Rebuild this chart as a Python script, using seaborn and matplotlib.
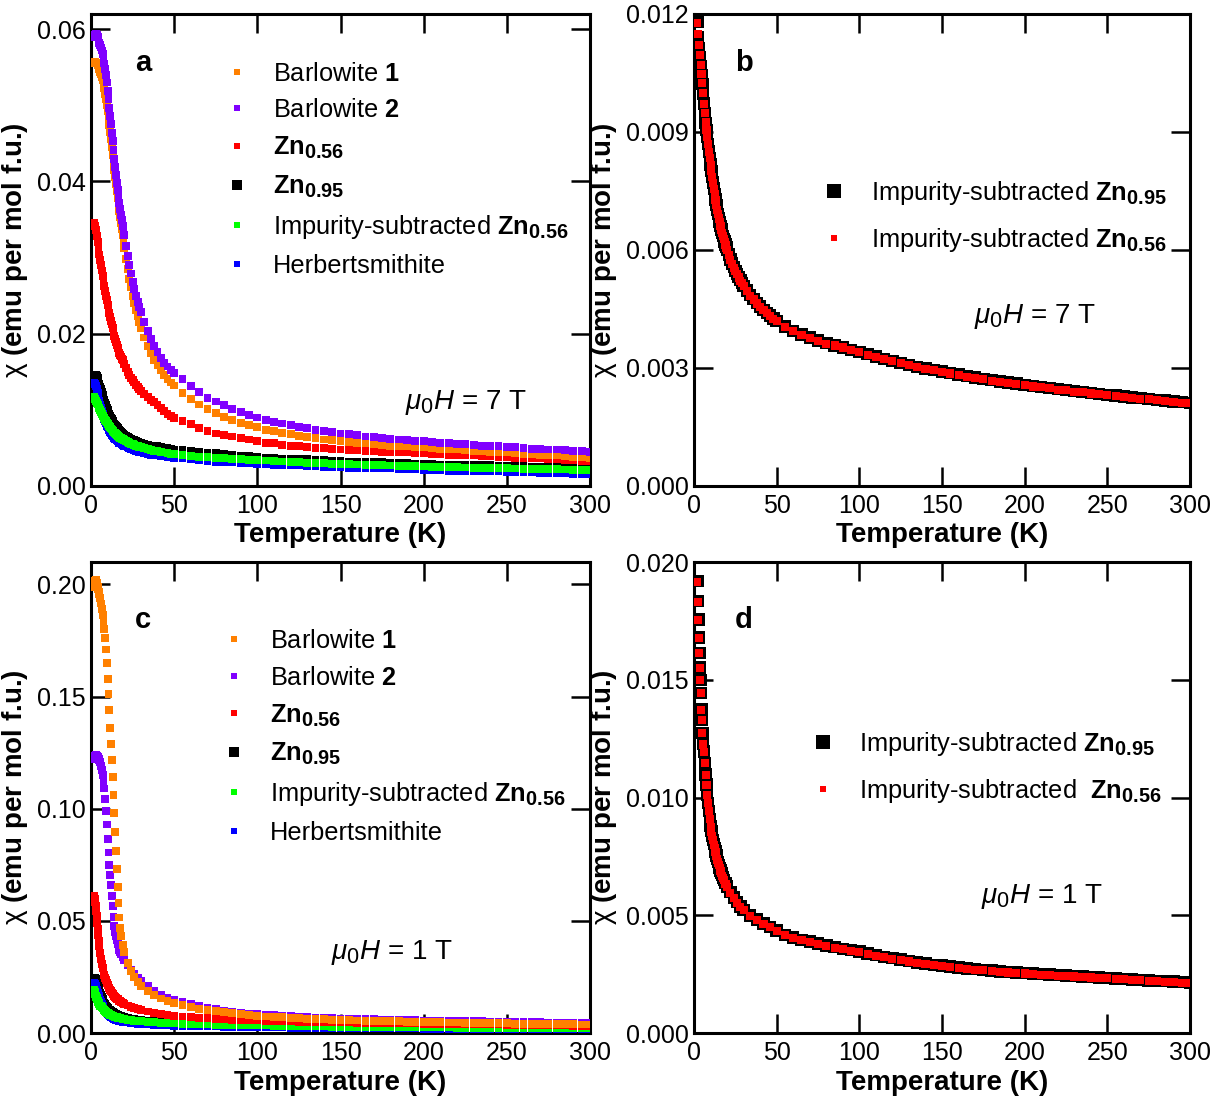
import matplotlib
matplotlib.use("Agg")
import matplotlib.pyplot as plt
import matplotlib._mathtext as _mt
import seaborn as sns
from matplotlib.lines import Line2D

# ---------------- data ----------------
# Temperature grid of the 7 T measurements (panels a, b)
T_7T = [2, 2.5, 3, 3.5, 4, 4.5, 5, 5.5, 6, 6.5, 7, 7.5, 8, 8.5, 9, 9.5, 10, 10.5, 11, 11.5,
        12, 12.5, 13, 13.5, 14, 14.5, 15, 15.5, 16, 16.5, 17, 17.5, 18, 18.5, 19, 19.5, 20,
        21, 22, 23, 24, 25, 26, 27, 28, 29, 30, 32, 34, 36, 38, 40, 42, 44, 46, 48, 50,
        55, 60, 65, 70, 75, 80, 85, 90, 95, 100, 105, 110, 115, 120, 125, 130, 135, 140, 145, 150,
        155, 160, 165, 170, 175, 180, 185, 190, 195, 200, 205, 210, 215, 220, 225, 230, 235, 240, 245, 250,
        255, 260, 265, 270, 275, 280, 285, 290, 295, 300]

# Temperature grid of the 1 T measurements (panels c, d)
T_1T = [2.0, 2.3, 2.6, 2.9, 3.2, 3.5, 3.8, 4.1, 4.4, 4.7, 5.0,
        5.5, 6.0, 6.5, 7.0, 7.5, 8.0, 8.5, 9.0, 9.5, 10.0, 10.5, 11.0, 11.5, 12.0, 12.5, 13.0, 13.5,
        14.0, 14.5, 15.0, 15.5, 16.0, 16.5, 17.0, 17.5, 18.0,
        19, 20, 22, 24, 26, 28, 30, 34, 38, 42, 46, 50,
        55, 60, 65, 70, 75, 80, 85, 90, 95, 100, 105, 110, 115, 120, 125, 130, 135, 140, 145, 150,
        155, 160, 165, 170, 175, 180, 185, 190, 195, 200, 205, 210, 215, 220, 225, 230, 235, 240, 245, 250,
        255, 260, 265, 270, 275, 280, 285, 290, 295, 300]

# ---- panel a (7 T) ----
barlowite1_7T = [.0556, .0557, .0556, .0555, .0553, .0550, .0547, .0544, .0541, .0537,
                 .0533, .0528, .0522, .0515, .0508, .0500, .0492, .0483, .0474, .0465,
                 .0455, .0445, .0435, .0425, .0415, .0406, .0396, .0387, .0378, .0370,
                 .0361, .0353, .0345, .0337, .0329, .0320, .0312,
                 .0298, .0285, .0272, .0261, .0250, .0240, .0231, .0223, .0215, .0208,
                 .0195, .0184, .0175, .0166, .0159, .0152, .0146, .0141, .0136, .0132,
                 .0122, .0114, .0107, .0101, .0096, .0091, .0087, .0083, .0080, .0077, .0074, .0072, .0070, .0068,
                 .0066, .0064, .0063, .0061, .0060, .0059, .0058, .0057, .0056, .0055, .0054, .0053, .0053, .0052,
                 .0051, .0051, .0050, .0049, .0048, .0048, .0047, .0046, .0046, .0045, .0044, .0044, .0043, .0042,
                 .0042, .0041, .0040, .0040, .0039, .0038, .0038, .0037]
barlowite2_7T = [.0590, .0593, .0594, .0593, .0590, .0586, .0582, .0579, .0576, .0572,
                 .0567, .0561, .0555, .0548, .0540, .0530, .0519, .0508, .0497, .0486,
                 .0475, .0464, .0453, .0441, .0430, .0419, .0408, .0398, .0389, .0380,
                 .0372, .0364, .0356, .0349, .0342, .0336, .0330,
                 .0315, .0302, .0290, .0279, .0268, .0259, .0250, .0242, .0235, .0228,
                 .0215, .0203, .0193, .0184, .0176, .0168, .0162, .0157, .0152, .0148,
                 .0140, .0131, .0123, .0116, .0111, .0106, .0101, .0097, .0093, .0090, .0087, .0084, .0082, .0080,
                 .0078, .0076, .0074, .0072, .0071, .0069, .0068, .0067, .0065, .0064, .0063, .0062, .0061, .0060,
                 .0059, .0059, .0058, .0057, .0056, .0055, .0055, .0054, .0053, .0053, .0052, .0051, .0051, .0050,
                 .0049, .0049, .0048, .0048, .0047, .0046, .0046, .0045]
zn056_7T = [.0346, .0342, .0336, .0328, .0320, .0311, .0304, .0297, .0290, .0283,
            .0276, .0269, .0263, .0256, .0250, .0244, .0238, .0232, .0227, .0222,
            .0217, .0212, .0207, .0202, .0197, .0193, .0189, .0185, .0181, .0178,
            .0175, .0172, .0170, .0167, .0165, .0162, .0160,
            .0155, .0150, .0146, .0142, .0139, .0136, .0133, .0130, .0127, .0125,
            .0121, .0117, .0113, .0110, .0106, .0102, .0098, .0095, .0092, .0089,
            .0085, .0081, .0076, .0072, .0069, .0067, .0065, .0063, .0061, .0059, .0057, .0056, .0054, .0053,
            .0052, .0051, .0050, .0050, .0049, .0048, .0047, .0047, .0046, .0046, .0045, .0045, .0044, .0044,
            .0043, .0043, .0042, .0042, .0041, .0041, .0040, .0040, .0039, .0039, .0038, .0038, .0037, .0037,
            .0036, .0036, .0035, .0035, .0034, .0034, .0033, .0033]
zn095_7T = [.0145, .0146, .0146, .0145, .0142, .0138, .0134, .0130, .0127, .0123,
            .0120, .0116, .0113, .0109, .0106, .0103, .0100, .0097, .0095, .0092,
            .0090, .0088, .0086, .0084, .0082, .0080, .0079, .0077, .0076, .0075,
            .0073, .0072, .0071, .0070, .0069, .0068, .0067,
            .0066, .0065, .0063, .0062, .0061, .0060, .0059, .0058, .0057, .0056,
            .0055, .0054, .0053, .0052, .0052, .0051, .0050, .0050, .0049, .0048,
            .0047, .0046, .0045, .0044, .0043, .0042, .0041, .0040, .0039, .0038, .0037, .0037, .0036, .0036,
            .0035, .0035, .0034, .0034, .0033, .0033, .0032, .0032, .0031, .0031, .0031, .0030, .0030, .0030,
            .0029, .0029, .0029, .0028, .0028, .0028, .0027, .0027, .0027, .0027, .0026, .0026, .0026, .0026,
            .0025, .0025, .0025, .0025, .0024, .0024, .0024, .0024]
sub_zn056_7T = [.01176, .01148, .01120, .01095, .01070, .01047, .01024, .00998, .00972, .00948,
                .00924, .00906, .00888, .00869, .00850, .00833, .00816, .00800, .00785, .00770,
                .00755, .00741, .00727, .00714, .00702, .00691, .00680, .00670, .00660, .00651,
                .00643, .00635, .00627, .00620, .00613, .00606, .00600,
                .00587, .00575, .00564, .00555, .00546, .00538, .00530, .00522, .00515, .00508,
                .00496, .00484, .00474, .00464, .00455, .00447, .00439, .00432, .00425, .00419,
                .00404, .00393, .00384, .00376, .00369, .00362, .00357, .00352, .00346, .00340, .00334, .00328,
                .00322, .00317, .00312, .00307, .00302, .00298, .00294, .00290, .00286, .00282, .00278, .00275,
                .00271, .00268, .00265, .00262, .00259, .00256, .00253, .00251, .00248, .00245, .00243, .00240,
                .00238, .00235, .00233, .00231, .00229, .00226, .00224, .00222, .00220, .00218, .00216, .00214,
                .00212, .00210]
herbert_7T = [.0136, .0134, .0131, .0127, .0122, .0117, .0112, .0107, .0103, .0099,
              .0095, .0091, .0088, .0085, .0082, .0079, .0077, .0075, .0073, .0071,
              .0069, .0067, .0066, .0064, .0063, .0062, .0061, .0060, .0059, .0058,
              .0057, .0057, .0056, .0055, .0054, .0054, .0053,
              .0052, .0051, .0050, .0049, .0048, .0047, .0046, .0046, .0045, .0044,
              .0043, .0042, .0041, .0040, .0040, .0039, .0039, .0038, .0038, .0037,
              .0036, .0035, .0034, .0033, .0032, .0032, .0031, .0030, .0030, .0029, .0029, .0028, .0028, .0027,
              .0027, .0026, .0026, .0025, .0025, .0025, .0024, .0024, .0024, .0023, .0023, .0023, .0022, .0022,
              .0022, .0021, .0021, .0021, .0020, .0020, .0020, .0019, .0019, .0019, .0019, .0018, .0018, .0018,
              .0018, .0017, .0017, .0017, .0017, .0016, .0016, .0016]
# ---- panel b (7 T) : impurity-subtracted Zn0.95 (the Zn0.56 one is sub_zn056_7T) ----
sub_zn095_7T = [.01180, .01140, .01112, .01090, .01068, .01045, .01022, .00997, .00972, .00947,
                .00923, .00905, .00887, .00869, .00850, .00833, .00817, .00801, .00786, .00771,
                .00756, .00742, .00728, .00715, .00703, .00692, .00681, .00671, .00661, .00652,
                .00644, .00636, .00628, .00621, .00614, .00607, .00601,
                .00588, .00576, .00566, .00556, .00547, .00539, .00531, .00523, .00516, .00509,
                .00497, .00485, .00475, .00465, .00456, .00448, .00440, .00433, .00426, .00420,
                .00405, .00394, .00385, .00377, .00370, .00363, .00357, .00352, .00346, .00341, .00335, .00329,
                .00323, .00318, .00313, .00308, .00303, .00299, .00295, .00291, .00287, .00283, .00279, .00276,
                .00272, .00269, .00266, .00263, .00260, .00257, .00254, .00252, .00249, .00246, .00244, .00241,
                .00239, .00236, .00234, .00232, .00230, .00227, .00225, .00223, .00221, .00219, .00217, .00215,
                .00213, .00211]

# ---- panel c (1 T) ----
barlowite1_1T = [.1990, .2005, .2015, .2018, .2015, .2008, .2000, .1990, .1980, .1968, .1958,
                 .1940, .1915, .1890, .1862, .1832, .1800, .1760, .1710, .1650, .1580, .1510, .1440, .1360, .1290,
                 .1216, .1142, .1060, .0980, .0895, .0810, .0730, .0650, .0580, .0515, .0468, .0432,
                 .0393, .0360, .0312, .0277, .0248, .0226, .0210, .0186, .0168, .0154, .0143, .0134,
                 .0124, .0116, .0109, .0103, .0097, .0092, .0088, .0084, .0080, .0077, .0074, .0072, .0070, .0068,
                 .0066, .0064, .0062, .0061, .0060, .0058, .0057, .0056, .0055, .0054, .0053, .0052, .0052, .0051,
                 .0050, .0049, .0049, .0048, .0047, .0047, .0046, .0045, .0045, .0044, .0044, .0043, .0042, .0042,
                 .0041, .0041, .0040, .0040, .0039, .0039, .0038, .0038]
barlowite2_1T = [.1222, .1232, .1236, .1238, .1238, .1236, .1233, .1230, .1226, .1222, .1218,
                 .1208, .1192, .1172, .1150, .1122, .1090, .1045, .0990, .0930, .0865, .0805, .0750, .0704, .0660,
                 .0612, .0565, .0518, .0478, .0452, .0432, .0414, .0398, .0384, .0372, .0361, .0352,
                 .0338, .0325, .0302, .0283, .0262, .0246, .0232, .0208, .0188, .0171, .0158, .0147,
                 .0138, .0128, .0120, .0113, .0106, .0100, .0095, .0091, .0087, .0084, .0081, .0079, .0077, .0075,
                 .0073, .0071, .0069, .0068, .0067, .0065, .0064, .0063, .0062, .0061, .0060, .0059, .0059, .0058,
                 .0057, .0056, .0056, .0055, .0054, .0054, .0053, .0052, .0052, .0051, .0051, .0050, .0049, .0049,
                 .0048, .0048, .0047, .0047, .0046, .0046, .0045, .0045]
zn056_1T = [.0612, .0600, .0585, .0565, .0545, .0520, .0492, .0463, .0435, .0410, .0388,
            .0358, .0332, .0308, .0289, .0273, .0259, .0246, .0235, .0225, .0216, .0208, .0200, .0193, .0187,
            .0181, .0175, .0170, .0165, .0161, .0157, .0153, .0150, .0147, .0144, .0141, .0139,
            .0134, .0130, .0123, .0117, .0112, .0107, .0103, .0096, .0090, .0084, .0080, .0077,
            .0074, .0071, .0068, .0066, .0064, .0062, .0060, .0059, .0057, .0056, .0055, .0054, .0053, .0052,
            .0051, .0050, .0049, .0049, .0048, .0047, .0047, .0046, .0046, .0045, .0045, .0044, .0044, .0043,
            .0043, .0042, .0042, .0041, .0041, .0040, .0040, .0039, .0039, .0038, .0038, .0037, .0037, .0036,
            .0036, .0035, .0035, .0034, .0034, .0033, .0033, .0033]
zn095_1T = [.0244, .0245, .0244, .0241, .0236, .0230, .0223, .0215, .0207, .0199, .0191,
            .0180, .0169, .0159, .0150, .0142, .0135, .0129, .0123, .0118, .0113, .0109, .0105, .0101, .0098,
            .0095, .0092, .0090, .0088, .0086, .0084, .0082, .0080, .0079, .0077, .0076, .0075,
            .0073, .0071, .0067, .0064, .0062, .0060, .0058, .0056, .0054, .0052, .0051, .0050,
            .0048, .0047, .0046, .0045, .0044, .0043, .0042, .0041, .0040, .0039, .0039, .0038, .0037, .0037,
            .0036, .0036, .0035, .0035, .0034, .0034, .0033, .0033, .0033, .0032, .0032, .0031, .0031, .0031,
            .0030, .0030, .0030, .0029, .0029, .0029, .0029, .0028, .0028, .0028, .0027, .0027, .0027, .0027,
            .0026, .0026, .0026, .0026, .0025, .0025, .0025, .0025]
sub_zn056_1T = [.01916, .01831, .01754, .01676, .01612, .01549, .01499, .01442, .01371, .01329, .01273,
                .01225, .01194, .01145, .01095, .01053, .01011, .00975, .00942, .00908, .00876, .00856, .00836,
                .00818, .00800, .00784, .00768, .00752, .00737, .00724, .00712, .00700, .00689, .00678, .00668,
                .00658, .00649,
                .00634, .00621, .00596, .00574, .00554, .00536, .00521, .00498, .00480, .00463, .00449, .00434,
                .00415, .00403, .00394, .00386, .00378, .00370, .00363, .00356, .00350, .00344, .00336, .00329,
                .00322, .00316, .00310, .00304, .00298, .00293, .00288, .00284, .00280, .00276, .00272, .00269,
                .00266, .00263, .00260, .00257, .00255, .00253, .00250, .00248, .00246, .00244, .00242, .00240,
                .00238, .00236, .00234, .00232, .00230, .00228, .00226, .00224, .00222, .00220, .00218, .00216,
                .00214, .00212]
herbert_1T = [.0222, .0219, .0214, .0208, .0201, .0194, .0187, .0180, .0172, .0165, .0158,
              .0147, .0137, .0128, .0120, .0112, .0105, .0099, .0094, .0089, .0085, .0081, .0078, .0075, .0072,
              .0070, .0067, .0065, .0063, .0062, .0060, .0059, .0057, .0056, .0055, .0054, .0053,
              .0051, .0050, .0047, .0045, .0043, .0042, .0040, .0038, .0037, .0035, .0034, .0033,
              .0032, .0031, .0030, .0030, .0029, .0028, .0028, .0027, .0027, .0026, .0026, .0025, .0025, .0024,
              .0024, .0024, .0023, .0023, .0023, .0022, .0022, .0022, .0021, .0021, .0021, .0020, .0020, .0020,
              .0020, .0019, .0019, .0019, .0019, .0018, .0018, .0018, .0018, .0017, .0017, .0017, .0017, .0017,
              .0016, .0016, .0016, .0016, .0016, .0015, .0015, .0015]
# ---- panel d (1 T) : impurity-subtracted Zn0.95 (the Zn0.56 one is sub_zn056_1T) ----
sub_zn095_1T = [.01920, .01835, .01756, .01680, .01614, .01552, .01500, .01444, .01374, .01330, .01275,
                .01228, .01196, .01147, .01098, .01055, .01013, .00977, .00944, .00910, .00878, .00857, .00838,
                .00820, .00802, .00786, .00770, .00754, .00739, .00726, .00714, .00702, .00691, .00680, .00670,
                .00660, .00651,
                .00636, .00623, .00598, .00576, .00556, .00538, .00523, .00500, .00482, .00465, .00451, .00436,
                .00417, .00405, .00396, .00388, .00380, .00372, .00365, .00358, .00352, .00346, .00338, .00331,
                .00324, .00318, .00312, .00306, .00300, .00295, .00290, .00286, .00282, .00278, .00274, .00271,
                .00268, .00265, .00262, .00259, .00257, .00255, .00252, .00250, .00248, .00246, .00244, .00242,
                .00240, .00238, .00236, .00234, .00232, .00230, .00228, .00226, .00224, .00222, .00220, .00218,
                .00216, .00214]

x_ticks = [0, 50, 100, 150, 200, 250, 300]
yticks_a = [0.00, 0.02, 0.04, 0.06]
yticks_b = [0.000, 0.003, 0.006, 0.009, 0.012]
yticks_c = [0.00, 0.05, 0.10, 0.15, 0.20]
yticks_d = [0.000, 0.005, 0.010, 0.015, 0.020]

for arr in (barlowite1_7T, barlowite2_7T, zn056_7T, zn095_7T, sub_zn056_7T, herbert_7T, sub_zn095_7T):
    assert len(arr) == len(T_7T), len(arr)
for arr in (barlowite1_1T, barlowite2_1T, zn056_1T, zn095_1T, sub_zn056_1T, herbert_1T, sub_zn095_1T):
    assert len(arr) == len(T_1T), len(arr)

# ---------------- style ----------------
sns.set_theme(style="white")
plt.rcParams["font.family"] = ["Liberation Sans", "DejaVu Sans"]
plt.rcParams["mathtext.fontset"] = "custom"
plt.rcParams["mathtext.rm"] = "Liberation Sans"
plt.rcParams["mathtext.it"] = "Liberation Sans:italic"
plt.rcParams["mathtext.bf"] = "Liberation Sans:bold"
plt.rcParams["text.color"] = "black"
plt.rcParams["axes.labelcolor"] = "black"
plt.rcParams["xtick.color"] = "black"
plt.rcParams["ytick.color"] = "black"
try:
    _mt.SHRINK_FACTOR = 0.78   # slightly larger subscripts, as in the reference
except Exception:
    pass

C_OR, C_PU, C_RE, C_BK, C_GR, C_BL = "#FF8000", "#8000FF", "#FF0000", "#000000", "#00FF00", "#0000FF"

fig = plt.figure(figsize=(12.17, 11.07), dpi=100)
ax_a = fig.add_axes([0.0748, 0.5610, 0.4100, 0.4264])
ax_b = fig.add_axes([0.5703, 0.5610, 0.4075, 0.4264])
ax_c = fig.add_axes([0.0748, 0.0668, 0.4100, 0.4255])
ax_d = fig.add_axes([0.5703, 0.0668, 0.4075, 0.4255])

S_SMALL = 32


def pts(T, vals, ax, color, s, z):
    sns.scatterplot(x=T, y=vals, ax=ax, marker="s", s=s, color=color,
                    edgecolor="none", linewidth=0, legend=False, zorder=z)


def style(ax, ylim, yticks, fmt):
    ax.set_xlim(0, 300)
    ax.set_ylim(*ylim)
    ax.set_xticks(x_ticks)
    ax.set_xticklabels([str(t) for t in x_ticks])
    ax.set_yticks(yticks)
    ax.set_yticklabels([fmt.format(v) for v in yticks])
    ax.tick_params(direction="in", length=13.5, width=1.8, top=True, right=True,
                   bottom=True, left=True, labelsize=18)
    ax.tick_params(axis="x", pad=6)
    ax.tick_params(axis="y", pad=4)
    for sp in ax.spines.values():
        sp.set_linewidth(2.2)
        sp.set_color("black")
    ax.set_xlabel("Temperature (K)", fontsize=20, fontweight="bold", labelpad=3)
    ax.set_ylabel(r"$\mathrm{\chi}$ (emu per mol f.u.)", fontsize=20, fontweight="bold", labelpad=5)


def handle(color, ms):
    return Line2D([], [], marker="s", linestyle="none", color=color, markersize=ms, markeredgewidth=0)


lab_b1 = r"Barlowite $\mathbf{1}$"
lab_b2 = r"Barlowite $\mathbf{2}$"
lab_z56 = r"$\mathbf{Zn_{0.56}}$"
lab_z95 = r"$\mathbf{Zn_{0.95}}$"
lab_s56 = r"Impurity-subtracted $\mathbf{Zn_{0.56}}$"
lab_hb = "Herbertsmithite"
LEG_FS = 18.3

# ---------------- panel a ----------------
pts(T_7T, zn095_7T, ax_a, C_BK, S_SMALL, 2)
pts(T_7T, herbert_7T, ax_a, C_BL, S_SMALL, 3)
pts(T_7T, sub_zn056_7T, ax_a, C_GR, S_SMALL, 4)
pts(T_7T, zn056_7T, ax_a, C_RE, S_SMALL, 5)
pts(T_7T, barlowite1_7T, ax_a, C_OR, S_SMALL, 6)
pts(T_7T, barlowite2_7T, ax_a, C_PU, S_SMALL, 7)
style(ax_a, (0, 0.062), yticks_a, "{:.2f}")
ax_a.legend([handle(C_OR, 4.9), handle(C_PU, 4.9), handle(C_RE, 4.9), handle(C_BK, 6.8),
             handle(C_GR, 4.9), handle(C_BL, 4.9)],
            [lab_b1, lab_b2, lab_z56, lab_z95, lab_s56, lab_hb],
            loc="upper left", bbox_to_anchor=(0.273, 0.899), frameon=False, fontsize=LEG_FS,
            borderpad=0, borderaxespad=0, handlelength=0.8, handletextpad=1.0, labelspacing=0.5)
ax_a.text(0.104, 0.896, "a", transform=ax_a.transAxes, fontsize=21, fontweight="bold",
          ha="center", va="center")
ax_a.text(0.751, 0.176, r"$\mu_0H$ = 7 T", transform=ax_a.transAxes, fontsize=20,
          ha="center", va="center")

# ---------------- panel b ----------------
pts(T_7T, sub_zn095_7T, ax_b, C_BK, 80, 2)
pts(T_7T, sub_zn056_7T, ax_b, C_RE, 34, 3)
style(ax_b, (0, 0.012), yticks_b, "{:.3f}")
ax_b.legend([handle(C_BK, 9.4), handle(C_RE, 5.0)],
            [r"Impurity-subtracted $\mathbf{Zn_{0.95}}$", r"Impurity-subtracted $\mathbf{Zn_{0.56}}$"],
            loc="upper left", bbox_to_anchor=(0.261, 0.650), frameon=False, fontsize=LEG_FS,
            borderpad=0, borderaxespad=0, handlelength=0.8, handletextpad=1.08, labelspacing=0.75)
ax_b.text(0.10, 0.896, "b", transform=ax_b.transAxes, fontsize=21, fontweight="bold",
          ha="center", va="center")
ax_b.text(0.687, 0.358, r"$\mu_0H$ = 7 T", transform=ax_b.transAxes, fontsize=20,
          ha="center", va="center")

# ---------------- panel c ----------------
pts(T_1T, zn095_1T, ax_c, C_BK, S_SMALL, 2)
pts(T_1T, herbert_1T, ax_c, C_BL, S_SMALL, 3)
pts(T_1T, sub_zn056_1T, ax_c, C_GR, S_SMALL, 4)
pts(T_1T, zn056_1T, ax_c, C_RE, S_SMALL, 5)
pts(T_1T, barlowite2_1T, ax_c, C_PU, S_SMALL, 6)
pts(T_1T, barlowite1_1T, ax_c, C_OR, S_SMALL, 7)
style(ax_c, (0, 0.21), yticks_c, "{:.2f}")
ax_c.legend([handle(C_OR, 4.9), handle(C_PU, 4.9), handle(C_RE, 4.9), handle(C_BK, 6.8),
             handle(C_GR, 4.9), handle(C_BL, 4.9)],
            [lab_b1, lab_b2, lab_z56, lab_z95, lab_s56, lab_hb],
            loc="upper left", bbox_to_anchor=(0.267, 0.858), frameon=False, fontsize=LEG_FS,
            borderpad=0, borderaxespad=0, handlelength=0.8, handletextpad=1.0, labelspacing=0.5)
ax_c.text(0.104, 0.877, "c", transform=ax_c.transAxes, fontsize=21, fontweight="bold",
          ha="center", va="center")
ax_c.text(0.603, 0.170, r"$\mu_0H$ = 1 T", transform=ax_c.transAxes, fontsize=20,
          ha="center", va="center")

# ---------------- panel d ----------------
pts(T_1T, sub_zn095_1T, ax_d, C_BK, 80, 2)
pts(T_1T, sub_zn056_1T, ax_d, C_RE, 34, 3)
style(ax_d, (0, 0.020), yticks_d, "{:.3f}")
ax_d.legend([handle(C_BK, 9.4), handle(C_RE, 5.0)],
            [r"Impurity-subtracted $\mathbf{Zn_{0.95}}$", r"Impurity-subtracted  $\mathbf{Zn_{0.56}}$"],
            loc="upper left", bbox_to_anchor=(0.2385, 0.643), frameon=False, fontsize=LEG_FS,
            borderpad=0, borderaxespad=0, handlelength=0.8, handletextpad=1.04, labelspacing=0.75)
ax_d.text(0.10, 0.877, "d", transform=ax_d.transAxes, fontsize=21, fontweight="bold",
          ha="center", va="center")
ax_d.text(0.702, 0.289, r"$\mu_0H$ = 1 T", transform=ax_d.transAxes, fontsize=20,
          ha="center", va="center")

fig.savefig("out.png", dpi=100)
